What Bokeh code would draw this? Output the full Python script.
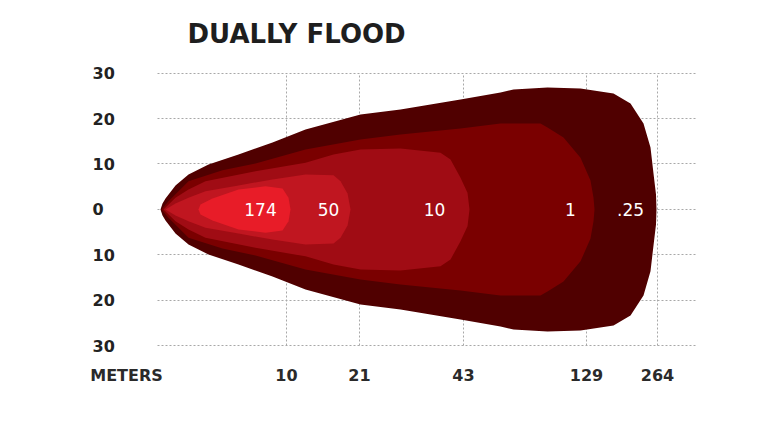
from bokeh.plotting import figure
from bokeh.models import Range1d, FixedTicker
from bokeh.embed import file_html
from bokeh.resources import INLINE
from bokeh.core.properties import value

title_text = "DUALLY FLOOD"
axis_name = "METERS"

# beam distance positions (chart units) where the meter ticks sit
x_tick_pos = [129, 202, 306, 429, 500]
x_tick_labels = ["10", "21", "43", "129", "264"]
axis_name_pos = -31
y_ticks = [30, 20, 10, 0, -10, -20, -30]
y_tick_labels = ["30", "20", "10", "0", "10", "20", "30"]

# iso-lux contours: distance along beam (chart units) and half-width
lux_025_x = [3, 5, 8, 18, 31, 51, 81, 115, 148, 203, 243, 303, 343, 356, 390, 423, 456, 473, 486, 493, 496, 498.5, 499]
lux_025_h = [0, 1.3, 2.4, 5.3, 7.7, 9.9, 12.1, 14.7, 17.6, 20.9, 22.0, 24.2, 25.7, 26.4, 26.8, 26.6, 25.5, 23.3, 18.9, 13.6, 7.9, 3.3, 0]

lux_1_x = [4, 11, 31, 65, 98, 148, 203, 243, 303, 343, 383, 390, 406, 423, 433, 436, 437]
lux_1_h = [0, 1.8, 6.2, 8.6, 10.1, 13.2, 15.4, 16.5, 17.8, 18.9, 18.9, 18.0, 15.8, 11.4, 6.4, 2.6, 0]

lux_10_x = [6, 18, 31, 48, 98, 148, 176, 203, 243, 283, 293, 303, 310, 312]
lux_10_h = [0, 2.6, 4.4, 6.2, 8.4, 10.3, 12.1, 13.2, 13.4, 12.5, 11.0, 7.0, 3.7, 0]

lux_50_x = [8, 18, 31, 48, 81, 115, 148, 176, 183, 190, 193]
lux_50_h = [0, 1.3, 2.6, 4.0, 5.3, 6.6, 7.7, 7.5, 6.2, 3.5, 0]

lux_174_x = [41, 43, 55, 81, 108, 125, 131, 133]
lux_174_h = [0, 1.1, 2.4, 4.4, 5.1, 4.6, 2.6, 0]

zone_colors = ["#500000", "#7a0000", "#a00c14", "#c01620", "#e81c28"]
zone_labels = [".25", "1", "10", "50", "174"]
zone_label_x = [473, 413, 277, 171, 103]

contours = [
    (lux_025_x, lux_025_h),
    (lux_1_x, lux_1_h),
    (lux_10_x, lux_10_h),
    (lux_50_x, lux_50_h),
    (lux_174_x, lux_174_h),
]

p = figure(width=740, height=410, output_backend="svg", toolbar_location=None,
           x_range=Range1d(-69, 540), y_range=Range1d(-32.97, 41.98),
           min_border_left=88, min_border_right=43, min_border_top=18, min_border_bottom=51)
p.outline_line_color = None
p.background_fill_color = "white"
p.border_fill_color = "white"

p.yaxis.visible = False
ax = p.xaxis[0]
ax.ticker = FixedTicker(ticks=[axis_name_pos] + x_tick_pos)
overrides = {t: l for t, l in zip(x_tick_pos, x_tick_labels)}
overrides[axis_name_pos] = axis_name
ax.major_label_overrides = overrides
ax.axis_line_color = None
ax.major_tick_line_color = None
ax.minor_tick_line_color = None
ax.major_label_standoff = 0
ax.major_label_text_font = "DejaVu Sans"
ax.major_label_text_font_style = "bold"
ax.major_label_text_font_size = "16px"
ax.major_label_text_color = "#2a2a2a"

for g in p.xgrid:
    g.ticker = FixedTicker(ticks=x_tick_pos)
    g.cross_bounds = (-30, 30)
for g in p.ygrid:
    g.ticker = FixedTicker(ticks=y_ticks)
    g.cross_bounds = (0, 540)
for g in list(p.xgrid) + list(p.ygrid):
    g.grid_line_color = "#a8a8a8"
    g.grid_line_dash = "2 2"
    g.grid_line_width = 1

for (cx, ch), col in zip(contours, zone_colors):
    xs = list(cx) + list(cx[::-1])
    ys = list(ch) + [-v for v in ch[::-1]]
    p.patch(xs, ys, fill_color=col, line_color=None)

p.text(x=zone_label_x, y=[0] * len(zone_label_x), text=zone_labels,
       text_color="white", text_font=value("DejaVu Sans"), text_font_size="17px",
       text_align="center", text_baseline="middle")

# y tick labels (left aligned, as in the original)
p.text(x=[-65] * len(y_ticks), y=y_ticks, text=y_tick_labels,
       text_align="left", text_baseline="middle",
       text_font=value("DejaVu Sans"), text_font_style="bold",
       text_font_size="16px", text_color="#222222")

# title
p.text(x=[30], y=[38.6], text=[title_text], text_align="left",
       text_baseline="middle", text_font=value("DejaVu Sans"),
       text_font_style="bold", text_font_size="26px", text_color="#1e1e1e")

open("out.html", "w").write(file_html(p, INLINE))
